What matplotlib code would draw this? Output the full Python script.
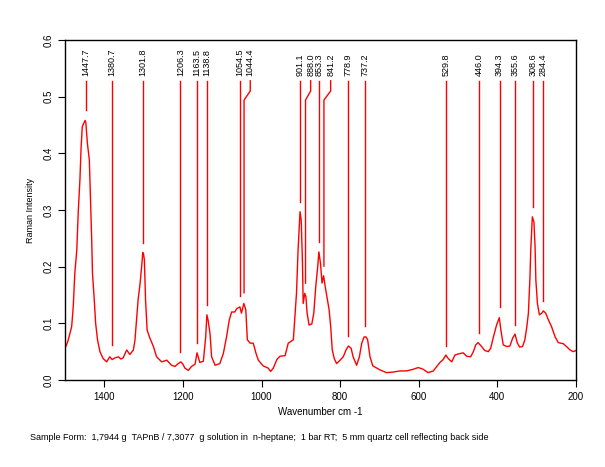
import numpy as np
import matplotlib
matplotlib.use("Agg")
import matplotlib.pyplot as plt

plt.rcParams['font.family'] = ['Liberation Sans', 'DejaVu Sans']

# spectrum (wavenumber cm-1, Raman intensity)
wavenumber = [1500, 1496, 1492, 1483, 1479, 1475, 1470, 1466, 1462, 1459, 1456, 1453, 1449, 1447,
              1443, 1438, 1435, 1432, 1430, 1426, 1422, 1417, 1411, 1403, 1394, 1386, 1380, 1373,
              1364, 1358, 1352, 1343, 1335, 1326, 1322, 1318, 1314, 1309, 1305, 1302, 1300, 1298,
              1295, 1291, 1284, 1275, 1267, 1254, 1241, 1229, 1220, 1212, 1205, 1200, 1195, 1186,
              1178, 1169, 1164, 1157, 1148, 1142, 1139, 1136, 1131, 1127, 1118, 1106, 1097, 1089,
              1082, 1076, 1068, 1063, 1055, 1051, 1045, 1040, 1036, 1029, 1021, 1014, 1008, 996,
              983, 977, 970, 961, 953, 940, 932, 919, 915, 911, 907, 904, 902, 899, 896, 894, 890,
              887, 884, 879, 872, 867, 862, 857, 854, 850, 846, 842, 838, 833, 828, 824, 820, 815,
              809, 800, 792, 785, 779, 772, 767, 758, 751, 745, 739, 734, 730, 724, 717, 707, 699,
              682, 665, 648, 631, 614, 601, 589, 576, 563, 554, 546, 538, 531, 525, 516, 508, 499,
              487, 478, 468, 461, 455, 449, 440, 432, 423, 417, 410, 402, 395, 391, 385, 376, 368,
              361, 355, 349, 343, 336, 330, 325, 321, 317, 315, 311, 307, 304, 302, 298, 293, 287,
              283, 277, 270, 262, 253, 245, 232, 224, 215, 207, 200]
intensity = [0.056, 0.062, 0.070, 0.094, 0.129, 0.188, 0.229, 0.300, 0.353, 0.410, 0.447, 0.452,
             0.458, 0.455, 0.418, 0.388, 0.318, 0.247, 0.188, 0.147, 0.100, 0.070, 0.050, 0.038,
             0.032, 0.041, 0.036, 0.039, 0.041, 0.037, 0.039, 0.053, 0.045, 0.053, 0.070, 0.106,
             0.141, 0.170, 0.200, 0.225, 0.222, 0.212, 0.141, 0.088, 0.074, 0.059, 0.041, 0.032,
             0.035, 0.026, 0.024, 0.029, 0.032, 0.028, 0.021, 0.017, 0.024, 0.028, 0.048, 0.031,
             0.033, 0.076, 0.115, 0.106, 0.082, 0.041, 0.026, 0.029, 0.047, 0.076, 0.106, 0.120,
             0.120, 0.126, 0.129, 0.118, 0.135, 0.124, 0.071, 0.065, 0.065, 0.047, 0.035, 0.025,
             0.021, 0.015, 0.021, 0.036, 0.042, 0.043, 0.065, 0.071, 0.112, 0.153, 0.229, 0.270,
             0.297, 0.282, 0.212, 0.135, 0.153, 0.147, 0.118, 0.097, 0.099, 0.118, 0.165, 0.200,
             0.226, 0.206, 0.171, 0.184, 0.165, 0.144, 0.124, 0.094, 0.053, 0.038, 0.029, 0.035,
             0.041, 0.053, 0.060, 0.056, 0.041, 0.026, 0.041, 0.065, 0.076, 0.076, 0.071, 0.041,
             0.025, 0.021, 0.018, 0.013, 0.014, 0.016, 0.016, 0.019, 0.022, 0.019, 0.013, 0.016,
             0.024, 0.031, 0.036, 0.044, 0.038, 0.032, 0.044, 0.046, 0.048, 0.042, 0.041, 0.050,
             0.062, 0.066, 0.059, 0.052, 0.050, 0.056, 0.076, 0.097, 0.110, 0.088, 0.062, 0.059,
             0.060, 0.074, 0.081, 0.065, 0.058, 0.059, 0.071, 0.094, 0.118, 0.182, 0.229, 0.288,
             0.279, 0.235, 0.176, 0.135, 0.115, 0.118, 0.122, 0.118, 0.106, 0.094, 0.076, 0.066,
             0.064, 0.059, 0.053, 0.050, 0.052]

# peak markers: label, where the line ends, where the label sits
peak_labels = ["1447.7", "1380.7", "1301.8", "1206.3", "1163.5", "1138.8", "1054.5", "1044.4",
               "901.1", "888.0", "853.3", "841.2", "778.9", "737.2", "529.8", "446.0", "394.3",
               "355.6", "308.6", "284.4"]
peak_pos = [float(p) for p in peak_labels]
peak_bottom = [0.476, 0.062, 0.242, 0.050, 0.066, 0.132, 0.148, 0.154, 0.315, 0.171, 0.244,
               0.201, 0.078, 0.095, 0.060, 0.083, 0.128, 0.097, 0.306, 0.140]
label_pos = [1447.7, 1380.7, 1301.8, 1206.3, 1163.5, 1138.8, 1054.5, 1028.6, 901.1, 875.0,
             853.3, 824.1, 778.9, 737.2, 529.8, 446.0, 394.3, 355.6, 308.6, 284.4]

fig = plt.figure(figsize=(6.05, 4.67), dpi=100)
ax = fig.add_axes([0.1074, 0.1863, 0.8446, 0.728])

ax.plot(wavenumber, intensity, color='red', lw=1.0)

line_top = 0.528
for lab, pos, bot, lpos in zip(peak_labels, peak_pos, peak_bottom, label_pos):
    if abs(lpos - pos) > 3:
        xs = [lpos, lpos, pos, pos]
        ys = [line_top, 0.510, 0.494, bot]
    else:
        xs = [pos, pos]
        ys = [line_top, bot]
    ax.plot(xs, ys, color='red', lw=1.0)
    ax.text(lpos, 0.537, lab, rotation=90, ha='center', va='bottom', fontsize=6.5)

ax.set_xlim(1500, 200)
ax.set_ylim(0, 0.6)
ax.set_xticks([1400, 1200, 1000, 800, 600, 400, 200])
ax.set_yticks([0.0, 0.1, 0.2, 0.3, 0.4, 0.5, 0.6])
ax.set_yticklabels(["0.0", "0.1", "0.2", "0.3", "0.4", "0.5", "0.6"], rotation=90, va='center')
ax.tick_params(direction='out', length=5, width=0.8, labelsize=7)
for s in ax.spines.values():
    s.set_linewidth(1.0)

ax.set_xlabel("Wavenumber cm -1", fontsize=7, labelpad=4)
ax.set_ylabel("Raman Intensity", fontsize=6.5, labelpad=6)

fig.text(0.05, 0.064, "Sample Form:  1,7944 g  TAPnB / 7,3077  g solution in  n-heptane;  1 bar RT;  5 mm quartz cell reflecting back side",
         fontsize=6.5, ha='left', va='center')

fig.savefig("out.png", dpi=100)
